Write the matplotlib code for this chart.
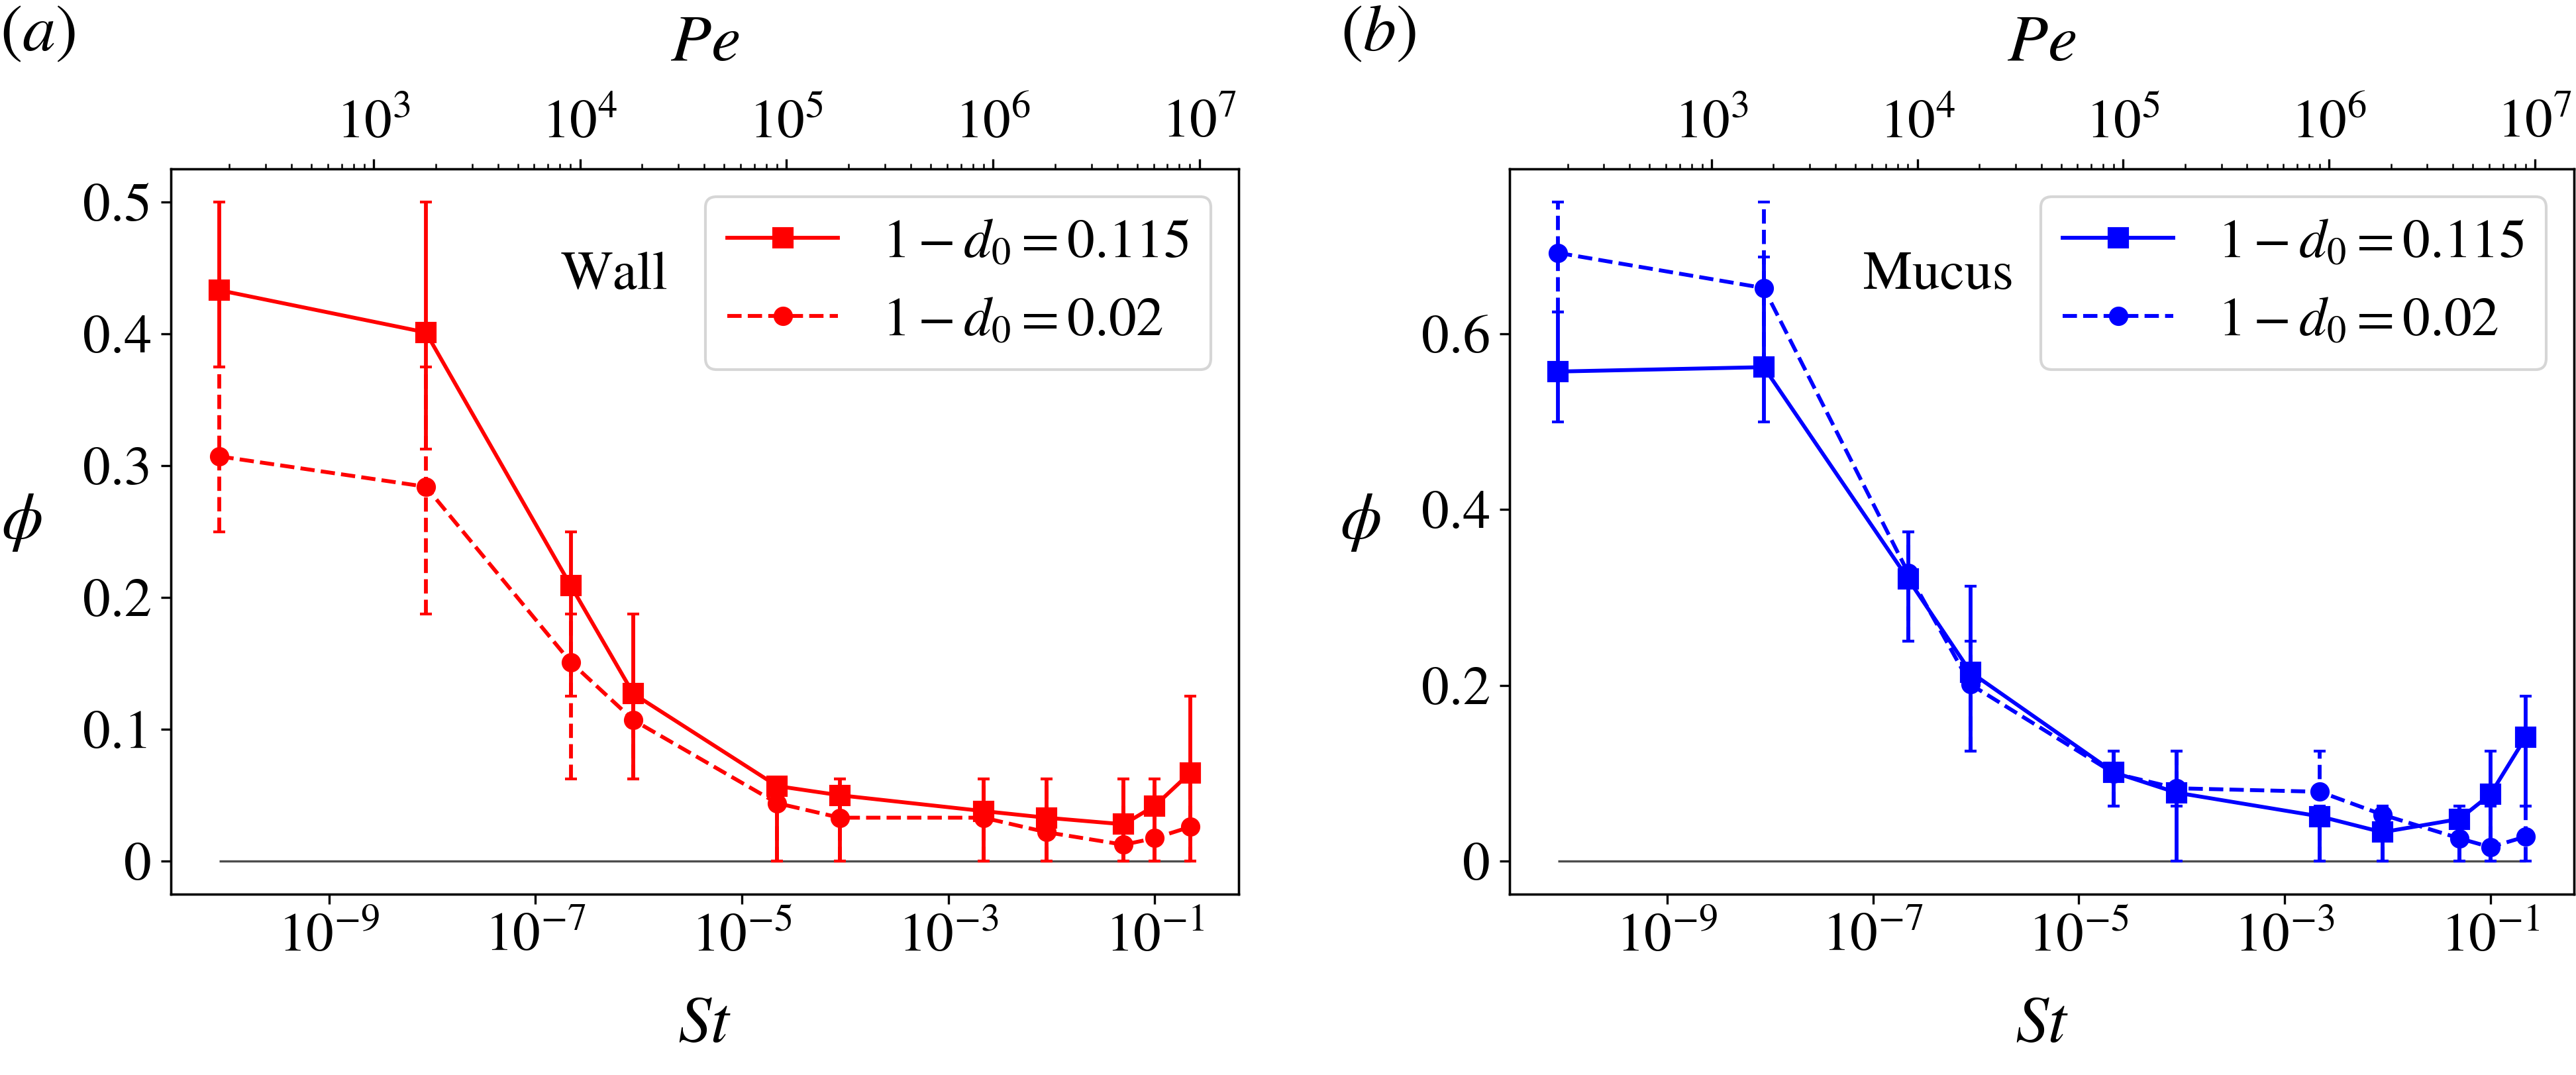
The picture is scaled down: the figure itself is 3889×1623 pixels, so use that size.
import numpy as np
import matplotlib
matplotlib.use('Agg')
import matplotlib.pyplot as plt
from matplotlib.ticker import FixedLocator, FuncFormatter, NullLocator

plt.rcParams['font.family'] = 'STIXGeneral'
plt.rcParams['mathtext.fontset'] = 'stix'
plt.rcParams['font.size'] = 20

# Stokes numbers (same for every series)
st = [8.7e-11, 8.7e-9, 2.2e-7, 8.9e-7, 2.2e-5, 8.9e-5, 2.2e-3, 8.9e-3, 5.0e-2, 1.0e-1, 2.2e-1]
pe_factor = 10 ** 7.284   # Pe = pe_factor * sqrt(St)

# (a) Wall
wall_a = [0.433, 0.401, 0.209, 0.127, 0.057, 0.050, 0.038, 0.033, 0.028, 0.042, 0.067]
wall_a_lo = [0.375, 0.3125, 0.125, 0.0625, 0, 0, 0, 0, 0, 0, 0]
wall_a_hi = [0.5, 0.5, 0.25, 0.1875, 0.0625, 0.0625, 0.0625, 0.0625, 0.0625, 0.0625, 0.125]
wall_b = [0.307, 0.284, 0.151, 0.107, 0.044, 0.033, 0.033, 0.022, 0.0125, 0.0175, 0.026]
wall_b_lo = [0.25, 0.1875, 0.0625, 0.0625, 0, 0, 0, 0, 0, 0, 0]
wall_b_hi = [0.375, 0.375, 0.1875, 0.125, 0.0625, 0.0625, 0.0625, 0.0625, 0.0625, 0.0625, 0.0625]

# (b) Mucus
mucus_a = [0.557, 0.562, 0.321, 0.215, 0.101, 0.078, 0.051, 0.033, 0.048, 0.076, 0.141]
mucus_a_lo = [0.5, 0.5, 0.25, 0.125, 0.0625, 0, 0, 0, 0, 0, 0.0625]
mucus_a_hi = [0.625, 0.6875, 0.375, 0.3125, 0.125, 0.125, 0.0625, 0.0625, 0.0625, 0.125, 0.1875]
mucus_b = [0.692, 0.652, 0.328, 0.201, 0.100, 0.083, 0.079, 0.053, 0.026, 0.016, 0.028]
mucus_b_lo = [0.625, 0.5625, 0.25, 0.125, 0.0625, 0.0625, 0, 0, 0, 0, 0]
mucus_b_hi = [0.75, 0.75, 0.375, 0.25, 0.125, 0.125, 0.125, 0.0625, 0.0625, 0.0625, 0.0625]

etiquetas = [r'$1-d_0=0.115$', r'$1-d_0=0.02$']
st_ticks = [1e-9, 1e-7, 1e-5, 1e-3, 1e-1]


def errores(y, lo, hi):
    y = np.array(y)
    return [y - np.array(lo), np.array(hi) - y]


def panel(ax, color, serie_a, serie_b, yticks, texto, texto_x):
    ax.hlines(0, st[0], st[-1], color='0.3', lw=0.8)
    ea = ax.errorbar(st, serie_a[0], yerr=errores(*serie_a), color=color, marker='s',
                     ms=6.5, lw=1.4, capsize=2.2, ls='-')
    eb = ax.errorbar(st, serie_b[0], yerr=errores(*serie_b), color=color, marker='o',
                     ms=6, lw=1.4, capsize=2.2, ls='--')
    eb[2][0].set_linestyle('--')
    ax.set_xscale('log')
    ax.xaxis.set_major_locator(FixedLocator(st_ticks))
    ax.xaxis.set_minor_locator(NullLocator())
    ax.set_yticks(yticks)
    ax.yaxis.set_major_formatter(FuncFormatter(lambda v, p: '0' if v == 0 else f'{v:g}'))
    ax.set_xlabel(r'$St$', fontsize=24, labelpad=12)
    ax.set_ylabel(r'$\phi$', fontsize=24, rotation=0)
    ax.yaxis.set_label_coords(-0.14, 0.47)
    # leyenda solo con linea y marcador (sin barras de error)
    ax.legend([ea[0], eb[0]], etiquetas, loc='upper right', fontsize=20)
    ax.text(texto_x, 0.835, texto, transform=ax.transAxes, fontsize=20)

    x0, x1 = ax.get_xlim()
    ax2 = ax.twiny()
    ax2.set_xscale('log')
    ax2.set_xlim(pe_factor * np.sqrt(x0), pe_factor * np.sqrt(x1))
    ax2.set_xlabel(r'$Pe$', fontsize=24, labelpad=14)
    return ax2


fig = plt.figure(figsize=(3889 / 300, 1623 / 300), dpi=300)
ax_a = fig.add_axes([258 / 3889, 273 / 1623, 1612 / 3889, 1095 / 1623])
ax_b = fig.add_axes([2279 / 3889, 273 / 1623, 1607 / 3889, 1095 / 1623])

panel(ax_a, 'red', (wall_a, wall_a_lo, wall_a_hi), (wall_b, wall_b_lo, wall_b_hi),
      [0, 0.1, 0.2, 0.3, 0.4, 0.5], 'Wall', 0.365)
panel(ax_b, 'blue', (mucus_a, mucus_a_lo, mucus_a_hi), (mucus_b, mucus_b_lo, mucus_b_hi),
      [0, 0.2, 0.4, 0.6], 'Mucus', 0.332)

fig.text(0.0, 0.995, r'$(a)$', fontsize=24, ha='left', va='top')
fig.text(2024 / 3889, 0.995, r'$(b)$', fontsize=24, ha='left', va='top')

fig.savefig('out.png', dpi=300)
